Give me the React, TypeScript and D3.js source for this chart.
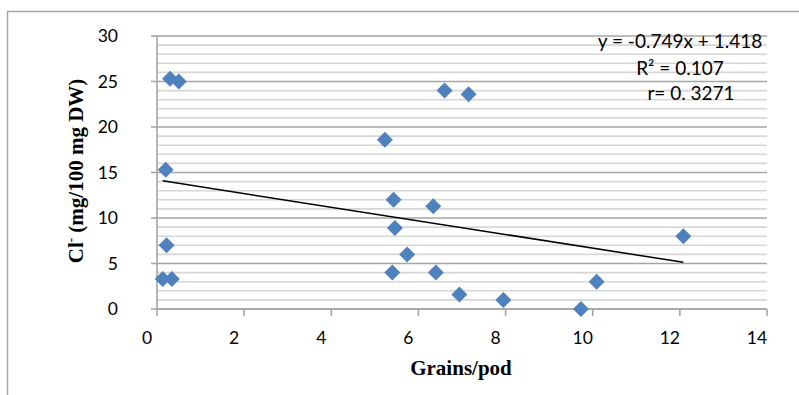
import * as d3 from "d3";

// Grains per pod vs Cl- content
const grains = [0.3, 0.5, 0.2, 5.23, 6.6, 7.15, 0.22, 0.13, 0.34, 5.4, 5.46, 5.43, 6.34, 5.74, 6.4, 6.94, 7.95, 9.73, 10.09, 12.08];
const chloride = [25.3, 25.0, 15.3, 18.6, 24.0, 23.6, 7.0, 3.3, 3.3, 4.0, 8.9, 12.0, 11.3, 6.0, 4.0, 1.6, 1.0, 0.0, 3.0, 8.0];

const xTicks = [0, 2, 4, 6, 8, 10, 12, 14];
const yTicks = [0, 5, 10, 15, 20, 25, 30];
const yGrid = d3.range(0, 31, 1);

// linear trend shown on the chart
const slope = -0.749;
const intercept = 14.18;
const eqLines = ["y = -0.749x + 1.418", "R² = 0.107", "r= 0. 3271"];

const W = 799;
const H = 395;

const App = () => {
  const x = d3.scaleLinear().domain([0, 14]).range([157, 767]);
  const y = d3.scaleLinear().domain([0, 30]).range([309, 36]);

  const xMin = d3.min(grains) as number;
  const xMax = d3.max(grains) as number;
  const trend = d3.line<number>()
    .x(d => x(d))
    .y(d => y(slope * d + intercept));

  const diamond = (cx: number, cy: number, r: number) =>
    `M${cx},${cy - r}L${cx + r},${cy}L${cx},${cy + r}L${cx - r},${cy}Z`;

  const tickFont = "Lato, 'Open Sans', sans-serif";
  const titleFont = "'Liberation Serif', 'Times New Roman', serif";

  return (
    <svg width={W} height={H} style={{ position: "absolute", left: 0, top: 0, background: "#fff" }}>
      <rect x={7.5} y={11.5} width={900} height={500} fill="#fff" stroke="#a6a6a6" strokeWidth={1.5} />

      {/* gridlines */}
      {yGrid.map(v => (
        <line key={"g" + v} x1={x(0)} x2={x(14)} y1={y(v)} y2={y(v)}
          stroke={v % 5 === 0 ? "#a5a5a5" : "#d6d6d6"} strokeWidth={1.6} />
      ))}

      {/* axes */}
      <line x1={x(0)} x2={x(0)} y1={y(0)} y2={y(30)} stroke="#a5a5a5" strokeWidth={1.6} />
      <line x1={x(0)} x2={x(14)} y1={y(0)} y2={y(0)} stroke="#a5a5a5" strokeWidth={1.6} />
      {yTicks.map(v => (
        <g key={"yt" + v}>
          <line x1={x(0) - 6} x2={x(0)} y1={y(v)} y2={y(v)} stroke="#a5a5a5" strokeWidth={1.6} />
          <text x={118} y={y(v)} dy="0.36em" textAnchor="end" fontFamily={tickFont} fontSize={17.5} fill="#000">{v}</text>
        </g>
      ))}
      {xTicks.map(v => (
        <g key={"xt" + v}>
          <line x1={x(v)} x2={x(v)} y1={y(0)} y2={y(0) + 7} stroke="#a5a5a5" strokeWidth={1.6} />
          <text x={x(v) - 10} y={344} textAnchor="middle" fontFamily={tickFont} fontSize={17.5} fill="#000">{v}</text>
        </g>
      ))}

      {/* points */}
      {grains.map((g, i) => (
        <path key={"p" + i} d={diamond(x(g), y(chloride[i]), 8)} fill="#4f81bd" />
      ))}

      {/* trendline */}
      <path d={trend([xMin, xMax]) || ""} fill="none" stroke="#000" strokeWidth={1.5} />

      {/* equation */}
      <text x={680} y={48} textAnchor="middle" fontFamily={tickFont} fontSize={19}>{eqLines[0]}</text>
      <text x={680} y={75} textAnchor="middle" fontFamily={tickFont} fontSize={19}>{eqLines[1]}</text>
      <text x={691} y={100} textAnchor="middle" fontFamily={tickFont} fontSize={19}>{eqLines[2]}</text>

      {/* axis titles */}
      <text x={461} y={375} textAnchor="middle" fontFamily={titleFont} fontWeight="bold" fontSize={21}>Grains/pod</text>
      <text transform="translate(83,171) rotate(-90)" textAnchor="middle" fontFamily={titleFont} fontWeight="bold" fontSize={21}>
        Cl<tspan fontSize={13} dy={-8}>-</tspan><tspan dy={8}> (mg/100 mg DW)</tspan>
      </text>
    </svg>
  );
};

export default App;
